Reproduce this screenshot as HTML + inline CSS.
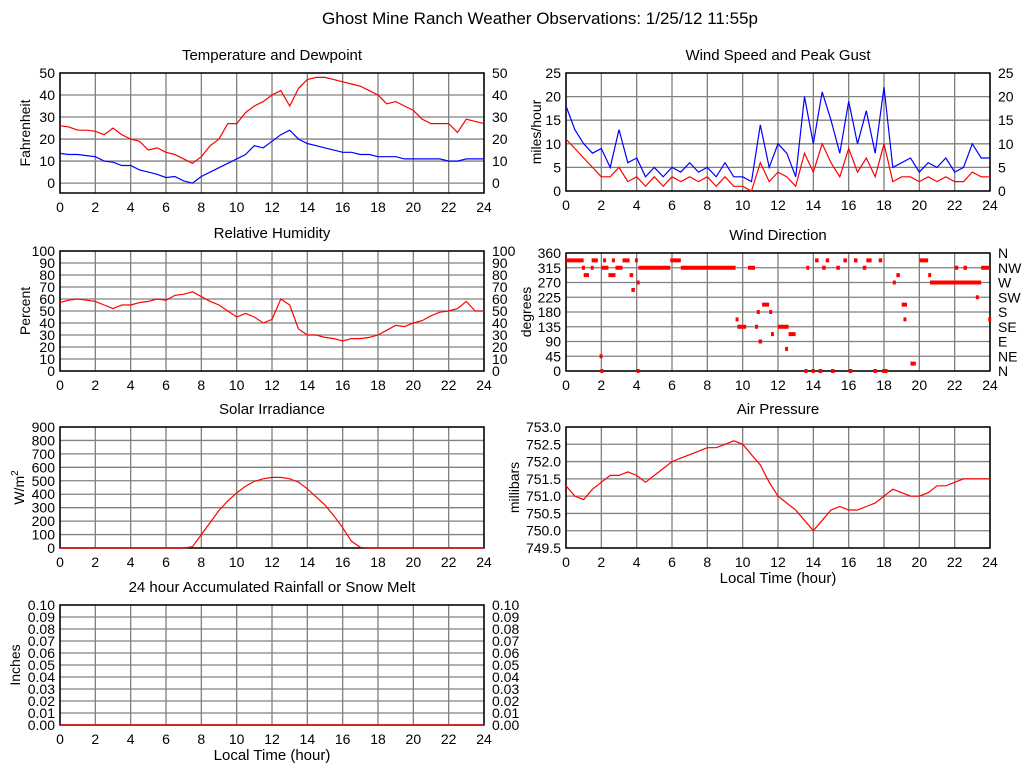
<!DOCTYPE html>
<html><head><meta charset="utf-8"><style>
body{margin:0;background:#fff;width:1024px;height:768px;overflow:hidden}
svg{font-family:"Liberation Sans",sans-serif}
</style></head><body>
<svg id="c" width="1024" height="768">
<text x="540" y="24" font-size="17" text-anchor="middle">Ghost Mine Ranch Weather Observations: 1/25/12 11:55p</text>
</svg>
<script>
const hoursHalf = Array.from({length:49},(_,i)=>i*0.5);
const tempF = [26,25.5,24,24,23.5,22,25,22,20,19,15,16,14,13,11,9,12,17,20,27,27,32,35,37,40,42,35,43,47,48,48,47,46,45,44,42,40,36,37,35,33,29,27,27,27,23,29,28,27];
const dewF = [13.5,13,13,12.5,12,10,9.5,8,8,6,5,4,2.5,3,1,0,3,5,7,9,11,13,17,16,19,22,24,20,18,17,16,15,14,14,13,13,12,12,12,11,11,11,11,11,10,10,11,11,11];
const humidity = [57,59,60,59,58,55,52,55,55,57,58,60,59,63,64,66,62,58,55,50,45,48,45,40,43,60,55,35,30,30,28,27,25,27,27,28,30,34,38,37,40,42,46,49,50,52,58,50,50];
const solar = [0,0,0,0,0,0,0,0,0,0,0,0,0,0,0,10,100,190,280,350,410,460,495,515,525,525,515,490,440,380,320,240,150,50,5,0,0,0,0,0,0,0,0,0,0,0,0,0,0];
const pressure = [751.3,751.0,750.9,751.2,751.4,751.6,751.6,751.7,751.6,751.4,751.6,751.8,752.0,752.1,752.2,752.3,752.4,752.4,752.5,752.6,752.5,752.2,751.9,751.4,751.0,750.8,750.6,750.3,750.0,750.3,750.6,750.7,750.6,750.6,750.7,750.8,751.0,751.2,751.1,751.0,751.0,751.1,751.3,751.3,751.4,751.5,751.5,751.5,751.5];
const gust = [18,13,10,8,9,5,13,6,7,3,5,3,5,4,6,4,5,3,6,3,3,2,14,5,10,8,3,20,10,21,15,8,19,10,17,8,22,5,6,7,4,6,5,7,4,5,10,7,7];
const speed = [11,9,7,5,3,3,5,2,3,1,3,1,3,2,3,2,3,1,3,1,1,0,6,2,4,3,1,8,4,10,6,3,9,4,7,3,10,2,3,3,2,3,2,3,2,2,4,3,3];
const rain = hoursHalf.map(()=>0);
const dirStart = [0,0.9,1.0,1.4,1.45,1.9,1.95,2.0,2.1,2.4,2.6,2.8,3.2,3.6,3.7,3.9,4.0,4.0,4.1,5.9,6.5,9.6,9.7,10.3,10.7,10.8,10.9,11.1,11.5,11.6,12.0,12.4,12.6,13.5,13.6,13.9,14.1,14.3,14.5,14.7,15.0,15.3,15.7,16.0,16.3,16.8,17.0,17.4,17.7,17.9,18.5,18.7,19.0,19.1,19.5,20.0,20.5,20.6,21.0,22.0,22.5,23.2,23.5,23.9];
const dirEnd =   [1.0,1.0,1.3,1.5,1.8,1.95,2.05,2.4,2.2,2.8,2.7,3.2,3.6,3.8,3.9,4.0,4.1,4.1,5.9,6.5,9.6,9.7,10.2,10.7,10.8,10.9,11.1,11.5,11.6,11.7,12.6,12.5,13.0,13.6,13.7,14.0,14.3,14.5,14.7,14.9,15.2,15.5,15.9,16.2,16.5,17.0,17.3,17.6,17.9,18.2,18.6,18.9,19.3,19.2,19.8,20.5,20.6,21.0,23.5,22.2,22.7,23.3,24.0,24.0];
const dirDeg =   [337.5,315,292.5,315,337.5,45,0,315,337.5,292.5,337.5,315,337.5,292.5,247.5,337.5,270,0,315,337.5,315,157.5,135,315,135,180,90,202.5,180,112.5,135,67.5,112.5,0,315,0,337.5,0,315,337.5,0,315,337.5,0,337.5,315,337.5,0,337.5,0,270,292.5,202.5,157.5,22.5,337.5,292.5,270,270,315,315,225,315,157.5];
const xTicks = [0,2,4,6,8,10,12,14,16,18,20,22,24];
const tempTicks = [0,10,20,30,40,50];
const humTicks = [0,10,20,30,40,50,60,70,80,90,100];
const windTicks = [0,5,10,15,20,25];
const dirTicks = [0,45,90,135,180,225,270,315,360];
const dirNames = ['N','NE','E','SE','S','SW','W','NW','N'];
const solarTicks = [0,100,200,300,400,500,600,700,800,900];
const presTicks = [749.5,750.0,750.5,751.0,751.5,752.0,752.5,753.0];
const rainTicks = [0,0.01,0.02,0.03,0.04,0.05,0.06,0.07,0.08,0.09,0.10];

const svg=document.getElementById('c');
const NS='http://www.w3.org/2000/svg';
function mk(tag,attrs,parent){const e=document.createElementNS(NS,tag);for(const k in attrs)e.setAttribute(k,attrs[k]);(parent||svg).appendChild(e);return e;}
function panel(o){
  const g=mk('g',{});
  
  
  const sx=v=>o.x0+(v/24)*(o.x1-o.x0);
  const sy=v=>o.yb+(v-o.ymin)/(o.ymax-o.ymin)*(o.yt-o.yb);
  o.sx=sx;o.sy=sy;o.g=g;
  xTicks.forEach(t=>{const l=mk('line',{x1:sx(t),x2:sx(t),y1:o.yt,y2:o.yb,stroke:'#808080','stroke-width':1.3},g);
    
    const tx=mk('text',{x:sx(t),y:o.yb+19,'font-size':14,'text-anchor':'middle'},g);tx.textContent=t;
    });
  o.ticks.forEach((t,i)=>{const y=sy(t);const l=mk('line',{x1:o.x0,x2:o.x1,y1:y,y2:y,stroke:'#808080','stroke-width':1.3},g);
    
    const lab=o.fmt?o.fmt(t):String(t);
    const tx=mk('text',{x:o.x0-5,y:y+5,'font-size':14,'text-anchor':'end'},g);tx.textContent=lab;
    
    if(o.right){const r=mk('text',{x:o.x1+8,y:y+5,'font-size':14},g);r.textContent=o.rightLabels?o.rightLabels[i]:lab;
      }
  });
  const b=mk('rect',{x:o.x0,y:o.yt,width:o.x1-o.x0,height:o.yb-o.yt,fill:'none',stroke:'#000','stroke-width':1.5},g);
  
  const t=mk('text',{x:(o.x0+o.x1)/2,y:o.yt-13,'font-size':15,'text-anchor':'middle'},g);t.textContent=o.title;
  
  const yl=mk('text',{x:0,y:0,'font-size':14,'text-anchor':'middle',transform:`translate(${o.x0-(o.yoff||34)},${(o.yt+o.yb)/2}) rotate(-90)`},g);
  yl.innerHTML=o.ylabel;
  
  if(o.xlabel){const xl=mk('text',{x:(o.x0+o.x1)/2,y:o.yb+35,'font-size':15,'text-anchor':'middle'},g);xl.textContent='Local Time (hour)';
    }
  return o;
}
function line(o,vals,color,name){
  const pts=vals.map((v,i)=>o.sx(hoursHalf[i]).toFixed(1)+','+o.sy(v).toFixed(1)).join(' ');
  const p=mk('polyline',{points:pts,fill:'none',stroke:color,'stroke-width':1.2},o.g);
  
  
}
const L0=60,L1=484,R0=566,R1=990;
const tp=panel({name:'temperature',x0:L0,x1:L1,yt:73,yb:193,ymin:-4.5,ymax:50,ticks:tempTicks,right:true,title:'Temperature and Dewpoint',ylabel:'Fahrenheit',yoff:30});
line(tp,tempF,'#f00','temperature-line');line(tp,dewF,'#00f','dewpoint-line');
const wp=panel({name:'wind-speed',x0:R0,x1:R1,yt:73,yb:191,ymin:0,ymax:25,ticks:windTicks,right:true,title:'Wind Speed and Peak Gust',ylabel:'miles/hour',yoff:25});
line(wp,gust,'#00f','gust-line');line(wp,speed,'#f00','speed-line');
const hp=panel({name:'humidity',x0:L0,x1:L1,yt:251,yb:371,ymin:0,ymax:100,ticks:humTicks,right:true,title:'Relative Humidity',ylabel:'Percent',yoff:30});
line(hp,humidity,'#f00','humidity-line');
const dp=panel({name:'wind-direction',x0:R0,x1:R1,yt:253,yb:371,ymin:0,ymax:360,ticks:dirTicks,right:true,rightLabels:dirNames,title:'Wind Direction',ylabel:'degrees',yoff:35});
dirDeg.forEach((d,i)=>{const x=dp.sx(dirStart[i]);const w=Math.max(3,dp.sx(dirEnd[i])-x);
  const r=mk('rect',{x:x,y:dp.sy(d)-2,width:w,height:4,fill:'#f00'},dp.g);
  
  });
const sp=panel({name:'solar',x0:L0,x1:L1,yt:427,yb:548,ymin:0,ymax:900,ticks:solarTicks,title:'Solar Irradiance',ylabel:'W/m<tspan font-size="10" dy="-6">2</tspan>',yoff:36});
line(sp,solar,'#f00','solar-line');
const pp=panel({name:'pressure',x0:R0,x1:R1,yt:427,yb:548,ymin:749.5,ymax:753,ticks:presTicks,fmt:v=>v.toFixed(1),title:'Air Pressure',ylabel:'millibars',xlabel:true,yoff:47});
line(pp,pressure,'#f00','pressure-line');
const rp=panel({name:'rainfall',x0:L0,x1:L1,yt:605,yb:725,ymin:0,ymax:0.1,ticks:rainTicks,fmt:v=>v.toFixed(2),right:true,title:'24 hour Accumulated Rainfall or Snow Melt',ylabel:'Inches',xlabel:true,yoff:40});
line(rp,rain,'#f00','rainfall-line');
</script>
</body></html>
